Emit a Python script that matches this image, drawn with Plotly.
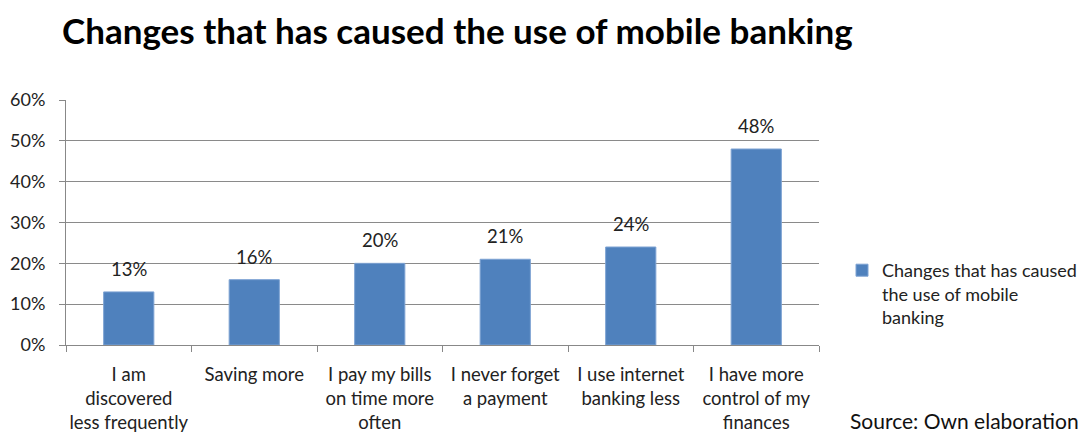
import plotly.graph_objects as go

categories = [
    "I am<br>discovered<br>less frequently",
    "Saving more",
    "I pay my bills<br>on time more<br>often",
    "I never forget<br>a payment",
    "I use internet<br>banking less",
    "I have more<br>control of my<br>finances",
]
values = [0.13, 0.16, 0.20, 0.21, 0.24, 0.48]
labels = ["13%", "16%", "20%", "21%", "24%", "48%"]
series_name = "Changes that has caused<br>the use of mobile<br>banking"
y_ticks = [0, 0.1, 0.2, 0.3, 0.4, 0.5, 0.6]
y_tick_text = ["0%", "10%", "20%", "30%", "40%", "50%", "60%"]

FONT = "Lato"
TXT = "#222222"

# page body has an 8px offset; layout positions account for it
L, R, T, B = 58, 811, 92, 337
W, H = 1092, 436
PW, PH = R - L, B - T

fig = go.Figure()
fig.add_trace(go.Bar(
    x=categories, y=values, name=series_name,
    marker=dict(color="#4F81BD", line=dict(color="#7ea3d3", width=1)),
    showlegend=True,
))

annotations = [
    dict(x=c, y=v, text=t, xref="x", yref="y", yanchor="bottom", yshift=10,
         showarrow=False, font=dict(size=18.5, color=TXT, family=FONT))
    for c, v, t in zip(categories, values, labels)
]
annotations.append(dict(
    text="Source: Own elaboration", xref="paper", yref="paper",
    x=(1073 - L) / PW, xanchor="right", y=(B - 412) / PH, yanchor="middle",
    showarrow=False, font=dict(size=21, color="#111111", family=FONT)))

fig.update_layout(
    width=W, height=H,
    margin=dict(l=L, r=W - R, t=T, b=H - B, autoexpand=False),
    paper_bgcolor="white", plot_bgcolor="white",
    bargap=0.6,
    font=dict(family=FONT, color=TXT),
    title=dict(text="<b>Changes that has caused the use of mobile banking</b>",
               x=54 / W, xanchor="left", xref="container",
               y=1 - 24 / H, yanchor="middle", yref="container",
               font=dict(size=35, color="#000000", family=FONT)),
    xaxis=dict(showgrid=False, showline=True, linecolor="#888888", linewidth=1,
               ticks="outside", tickson="boundaries", ticklen=6, tickcolor="#888888",
               tickfont=dict(size=18.5, color=TXT), tickangle=0, ticklabelstandoff=13,
               automargin=False),
    yaxis=dict(range=[0, 0.6], tickvals=y_ticks, ticktext=y_tick_text,
               showgrid=True, gridcolor="#8a8a8a", gridwidth=1,
               showline=True, linecolor="#888888", linewidth=1,
               ticks="outside", ticklen=6, tickcolor="#888888",
               tickfont=dict(size=18, color=TXT), zeroline=False,
               ticklabelstandoff=10, automargin=False),
    legend=dict(x=(834 - L) / PW, xanchor="left", y=(B - 286) / PH, yanchor="middle",
                font=dict(size=18, color=TXT), itemwidth=30, valign="top",
                bgcolor="rgba(0,0,0,0)"),
    annotations=annotations,
)

fig.write_html("out.html")
